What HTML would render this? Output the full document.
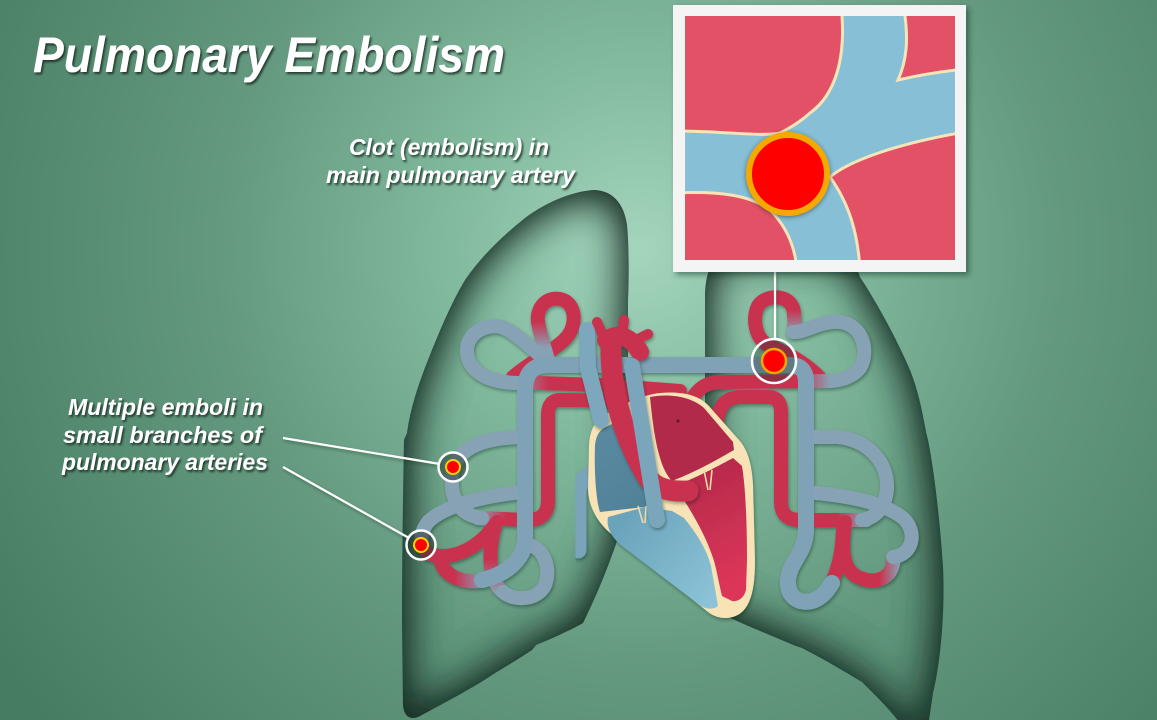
<!DOCTYPE html>
<html><head><meta charset="utf-8">
<style>
html,body{margin:0;padding:0;width:1157px;height:720px;overflow:hidden;background:#5f977c;}
svg{display:block}
text{font-family:"Liberation Sans",Arial,sans-serif;font-weight:bold;font-style:italic;fill:#ffffff}
</style></head><body>
<svg width="1157" height="720" viewBox="0 0 1157 720" xmlns="http://www.w3.org/2000/svg">
<defs>
 <radialGradient id="bg" gradientUnits="userSpaceOnUse" cx="640" cy="250" r="760">
  <stop offset="0" stop-color="#a4d5bd"/>
  <stop offset="0.25" stop-color="#82ba9e"/>
  <stop offset="0.55" stop-color="#64997f"/>
  <stop offset="1" stop-color="#467c61"/>
 </radialGradient>
 <filter id="inner" x="-25%" y="-25%" width="150%" height="150%">
  <feFlood flood-color="#1a362a" flood-opacity="1" result="c"/>
  <feComposite in="c" in2="SourceAlpha" operator="out" result="inv"/>
  <feGaussianBlur in="inv" stdDeviation="22" result="b"/>
  <feComposite in="b" in2="SourceAlpha" operator="in" result="sh"/>
  <feMerge><feMergeNode in="SourceGraphic"/><feMergeNode in="sh"/><feMergeNode in="sh"/><feMergeNode in="sh"/></feMerge>
 </filter>
 <filter id="ds" x="-10%" y="-10%" width="130%" height="130%">
  <feDropShadow dx="1" dy="2" stdDeviation="1.5" flood-color="#0e2a1e" flood-opacity="0.4"/>
 </filter>
 <filter id="ts" x="-5%" y="-30%" width="110%" height="170%">
  <feDropShadow dx="1.5" dy="2" stdDeviation="1" flood-color="#0b2419" flood-opacity="0.8"/>
 </filter>
 <filter id="fs" x="-10%" y="-10%" width="125%" height="125%">
  <feDropShadow dx="3" dy="3" stdDeviation="3" flood-color="#0b2419" flood-opacity="0.45"/>
 </filter>
 <filter id="cs" x="-30%" y="-30%" width="160%" height="160%">
  <feDropShadow dx="0" dy="1" stdDeviation="2.5" flood-color="#1a2a30" flood-opacity="0.6"/>
 </filter>
 <clipPath id="clipInset"><rect x="685" y="16" width="270" height="244"/></clipPath>

 <linearGradient id="gL1" gradientUnits="userSpaceOnUse" x1="548" y1="0" x2="512" y2="0"><stop offset="0" stop-color="#c93350"/><stop offset="1" stop-color="#88a2b5"/></linearGradient>
 <linearGradient id="gL2" gradientUnits="userSpaceOnUse" x1="0" y1="322" x2="0" y2="348"><stop offset="0" stop-color="#c93350"/><stop offset="1" stop-color="#88a2b5"/></linearGradient>
 <linearGradient id="gL3" gradientUnits="userSpaceOnUse" x1="505" y1="0" x2="478" y2="0"><stop offset="0" stop-color="#c93350"/><stop offset="1" stop-color="#88a2b5"/></linearGradient>
 <linearGradient id="gL7" gradientUnits="userSpaceOnUse" x1="0" y1="532" x2="0" y2="555"><stop offset="0" stop-color="#88a2b5"/><stop offset="1" stop-color="#c93350"/></linearGradient>
 <linearGradient id="gL5r" gradientUnits="userSpaceOnUse" x1="0" y1="560" x2="0" y2="594"><stop offset="0" stop-color="#c93350"/><stop offset="1" stop-color="#88a2b5"/></linearGradient>
 <linearGradient id="gL5e" gradientUnits="userSpaceOnUse" x1="485" y1="0" x2="455" y2="0"><stop offset="0" stop-color="#88a2b5"/><stop offset="1" stop-color="#c93350"/></linearGradient>
 <linearGradient id="gR1" gradientUnits="userSpaceOnUse" x1="800" y1="0" x2="830" y2="0"><stop offset="0" stop-color="#c93350"/><stop offset="1" stop-color="#88a2b5"/></linearGradient>
 <linearGradient id="gR2" gradientUnits="userSpaceOnUse" x1="0" y1="310" x2="0" y2="333"><stop offset="0" stop-color="#c93350"/><stop offset="1" stop-color="#88a2b5"/></linearGradient>
 <linearGradient id="gR3" gradientUnits="userSpaceOnUse" x1="838" y1="0" x2="866" y2="0"><stop offset="0" stop-color="#c93350"/><stop offset="1" stop-color="#88a2b5"/></linearGradient>
 <linearGradient id="gR7" gradientUnits="userSpaceOnUse" x1="880" y1="0" x2="900" y2="0"><stop offset="0" stop-color="#c93350"/><stop offset="1" stop-color="#88a2b5"/></linearGradient>
 <linearGradient id="gRV" gradientUnits="userSpaceOnUse" x1="620" y1="520" x2="715" y2="600"><stop offset="0" stop-color="#6aa3bb"/><stop offset="1" stop-color="#8cc3d7"/></linearGradient>
 <linearGradient id="gLV" gradientUnits="userSpaceOnUse" x1="690" y1="480" x2="745" y2="580"><stop offset="0" stop-color="#b82a4c"/><stop offset="1" stop-color="#dc3658"/></linearGradient>
 <linearGradient id="gRA" gradientUnits="userSpaceOnUse" x1="595" y1="430" x2="650" y2="510"><stop offset="0" stop-color="#5a8aa0"/><stop offset="1" stop-color="#4f8198"/></linearGradient>
</defs>

<!-- background -->
<rect x="0" y="0" width="1157" height="720" fill="url(#bg)"/>

<!-- lungs -->
<g filter="url(#inner)">
 <path fill="url(#bg)" d="M 593,190 C 612,190 624,203 627,225 C 629,245 629,280 628,300 L 628,470 C 626,510 620,535 612,555 C 603,580 592,605 583,623 C 565,633 548,640 536,645 L 532,650 C 520,658 505,667 495,673 C 470,690 440,705 420,716 C 410,721 404,716 403,705 L 402,620 C 402,560 403,500 404,440 L 407,433 C 410,410 418,385 428,360 C 438,335 450,305 465,280 C 480,258 500,238 525,218 C 545,203 570,192 593,190 Z"/>
</g>
<g filter="url(#inner)">
 <path fill="url(#bg)" d="M 705,300 C 705,265 715,252 740,252 L 835,252 C 850,254 856,265 860,277 C 875,300 895,335 910,370 C 918,390 922,410 926,432 L 928,440 C 934,470 940,520 943,567 C 945,610 941,660 933,693 L 926,740 L 912,740 C 902,724 888,708 877,697 L 862,682 C 842,670 822,658 802,648 L 796,646 C 775,637 750,627 728,617 C 715,612 706,605 705,595 Z"/>
</g>

<!-- lung vessels -->
<g filter="url(#ds)" fill="none" stroke-width="14" stroke-linecap="round" stroke-linejoin="round">
 <!-- left side -->
 <path d="M 513,377 C 530,362 555,350 566,338 C 578,325 576,302 560,299 C 545,296 536,310 538,322" stroke="#c93350"/>
 <path d="M 538,322 C 540,335 545,348 548,360" stroke="url(#gL2)"/>
 <path d="M 680,391 L 600,385 L 540,383 L 514,383" stroke="url(#gL1)"/>
 <path d="M 520,383 C 495,383 470,376 467,353 C 465,331 492,320 508,330 C 522,338 535,352 548,362" stroke="#88a2b5"/>
 <path d="M 680,401 L 560,400 Q 548,400 548,415 L 548,500 Q 548,520 528,520 L 478,518" stroke="url(#gL3)"/>
 <path d="M 482,518 C 460,515 450,500 452,475 C 455,445 490,437 525,437" stroke="#88a2b5"/>
 <path d="M 522,492 C 485,496 445,505 428,522 C 418,535 420,548 430,554" stroke="url(#gL7)"/>
 <path d="M 428,553 C 450,562 478,550 497,522" stroke="#c93350"/>
 <path d="M 495,526 C 488,550 488,580 503,592" stroke="url(#gL5r)"/>
 <path d="M 525,545 C 545,545 551,570 545,585 C 538,600 515,602 503,592" stroke="#88a2b5"/>
 <path d="M 485,580 C 465,584 445,578 440,560" stroke="url(#gL5e)"/>
 <path d="M 800,365 L 548,365 Q 525,365 525,390 L 525,540 C 524,560 505,575 482,580" stroke="#80a2b6" stroke-width="16"/>
 <!-- right side -->
 <path d="M 820,378 C 805,362 785,352 768,345 C 755,338 752,318 758,306 C 764,296 782,294 790,303 C 794,308 794,312 794,316" stroke="#c93350"/>
 <path d="M 794,314 C 795,322 794,327 793,332" stroke="url(#gR2)"/>
 <path d="M 793,332 C 805,333 820,320 840,322 C 862,325 870,350 860,368 C 850,380 835,381 825,381" stroke="#88a2b5"/>
 <path d="M 690,402 C 698,388 706,382 722,382 L 830,381" stroke="url(#gR1)"/>
 <path d="M 717,420 C 720,403 728,397 742,397 L 768,397 Q 781,397 781,412 L 781,502 Q 781,520 800,520 L 866,520" stroke="url(#gR3)"/>
 <path d="M 845,522 C 842,545 840,570 860,578 C 880,585 895,575 893,557" stroke="url(#gR7)"/>
 <path d="M 806,437 L 838,437 C 868,440 888,462 887,488 C 886,508 875,518 862,520" stroke="#88a2b5"/>
 <path d="M 806,492 C 840,495 880,500 903,518 C 918,532 913,555 893,557" stroke="#88a2b5"/>
 <path d="M 830,586 C 838,570 842,555 843,530" stroke="#c93350"/>
 <path d="M 790,365 Q 806,365 806,382 L 806,530 C 805,555 790,560 788,580 C 787,598 800,604 812,601 C 822,598 828,590 832,583" stroke="#80a2b6" stroke-width="16"/>
</g>

<!-- IVC -->
<g filter="url(#ds)" fill="none" stroke-linecap="round">
 <path d="M 600,473 Q 578,475 578,494 L 578,550" stroke="#7aa4b9" stroke-width="17"/>
</g>

<!-- heart -->
<g filter="url(#ds)">
 <path fill="#f7e3b6" d="M 603,416 C 625,403 642,395 660,393 C 682,391 698,395 708,405 L 739,440 C 748,450 752,465 753,485 L 755,560 C 755,585 752,603 742,612 C 733,620 718,620 708,612 L 615,537 C 598,524 589,508 588,490 L 589,445 C 590,430 595,421 603,416 Z"/>
 <path fill="url(#gRA)" d="M 604,428 L 620,420 C 632,450 642,480 654,506 L 600,512 C 596,500 594,470 595,445 C 596,436 599,431 604,428 Z"/>
 <path fill="url(#gRV)" d="M 608,517 L 645,507 L 672,511 L 684,518 C 697,534 706,548 711,566 L 718,606 C 713,610 706,609 701,606 L 622,546 C 611,537 606,527 608,517 Z"/>
 <path fill="#b22a4a" d="M 650,397 C 670,393 692,397 704,408 L 733,442 L 734,450 C 720,458 700,470 672,481 C 662,470 655,450 650,397 Z"/>
 <path fill="url(#gLV)" d="M 675,486 C 700,476 720,465 733,458 L 742,466 C 746,490 747,530 747,560 L 746,590 C 744,598 738,602 732,601 L 722,596 C 718,580 716,565 712,555 C 705,535 694,515 675,486 Z"/>
 <circle cx="678" cy="421" r="1.6" fill="#6a1228"/>
 <g stroke="#efd9a6" stroke-width="1.6" fill="none">
  <path d="M 704,470 L 708,490 M 712,470 L 710,490"/>
  <path d="M 638,506 L 643,523 M 646,506 L 645,523"/>
 </g>
</g>

<!-- great vessels over heart -->
<g filter="url(#ds)" fill="none" stroke-linecap="round" stroke-linejoin="round">
 <path d="M 587,330 L 588,368 L 601,420" stroke="#7da7bc" stroke-width="16"/>
 <path d="M 604,338 L 597,322" stroke="#c8304f" stroke-width="10"/>
 <path d="M 622,336 L 624,320" stroke="#c8304f" stroke-width="10"/>
 <path d="M 632,342 L 648,334" stroke="#c8304f" stroke-width="10"/>
 <path d="M 606,340 Q 625,328 640,352" stroke="#c8304f" stroke-width="18"/>
 <path d="M 611,342 C 610,395 625,440 648,478 C 655,488 668,492 688,491" stroke="#c8304f" stroke-width="21"/>
 <path d="M 632,366 L 657,520" stroke="#7aa5ba" stroke-width="16"/>
</g>

<!-- connector lines -->
<g filter="url(#ds)" stroke="#ffffff" stroke-width="2.2" fill="none">
 <line x1="283" y1="438" x2="440" y2="464"/>
 <line x1="283" y1="467" x2="409" y2="538"/>
 <line x1="775" y1="272" x2="775" y2="340"/>
</g>

<!-- emboli -->
<g>
 <circle cx="774" cy="361" r="22" fill="rgba(30,50,45,0.35)" stroke="#ffffff" stroke-width="2.5"/>
 <circle cx="774" cy="361" r="12" fill="#ff0000" stroke="#f2a600" stroke-width="2.5"/>
 <circle cx="453" cy="467" r="14.5" fill="rgba(30,50,45,0.5)" stroke="#ffffff" stroke-width="2.5"/>
 <circle cx="453" cy="467" r="7" fill="#ff0000" stroke="#f7d400" stroke-width="2"/>
 <circle cx="421" cy="545" r="14.5" fill="rgba(30,50,45,0.5)" stroke="#ffffff" stroke-width="2.5"/>
 <circle cx="421" cy="545" r="7" fill="#ff0000" stroke="#f7d400" stroke-width="2"/>
</g>

<!-- inset -->
<rect x="673" y="5" width="293" height="267" fill="#f4f4f4" filter="url(#fs)"/>
<g clip-path="url(#clipInset)">
 <rect x="685" y="16" width="270" height="244" fill="#87bfd6"/>
 <g fill="#e35166" stroke="#f6e5b9" stroke-width="3">
  <path d="M 675,6 L 842,6 L 842,16 C 845,60 835,95 810,113 C 800,122 790,128 780,133 C 760,137 725,131 675,131 Z"/>
  <path d="M 905,6 L 905,16 C 908,40 907,60 898,80 C 915,76 935,72 965,69 L 965,6 Z"/>
  <path d="M 965,132 C 900,143 850,160 830,177 C 850,205 858,235 860,270 L 965,270 Z"/>
  <path d="M 675,193 C 720,191 750,195 770,210 C 785,225 795,245 797,270 L 675,270 Z"/>
 </g>
 <circle cx="788" cy="174" r="39" fill="#ff0000" stroke="#f4a900" stroke-width="6" filter="url(#cs)"/>
</g>
<line x1="582" y1="175" x2="773" y2="175" stroke="#ffffff" stroke-width="2.2" filter="url(#ds)"/>

<!-- text -->
<g filter="url(#ts)">
 <text x="33" y="72" font-size="50" textLength="472" lengthAdjust="spacingAndGlyphs">Pulmonary Embolism</text>
 <text x="349" y="155" font-size="23" textLength="200" lengthAdjust="spacingAndGlyphs">Clot (embolism) in</text>
 <text x="326" y="183" font-size="23" textLength="249" lengthAdjust="spacingAndGlyphs">main pulmonary artery</text>
 <text x="68" y="415" font-size="23" textLength="195" lengthAdjust="spacingAndGlyphs">Multiple emboli in</text>
 <text x="63" y="443" font-size="23" textLength="199" lengthAdjust="spacingAndGlyphs">small branches of</text>
 <text x="62" y="470" font-size="23" textLength="206" lengthAdjust="spacingAndGlyphs">pulmonary arteries</text>
</g>
</svg>
</body></html>
